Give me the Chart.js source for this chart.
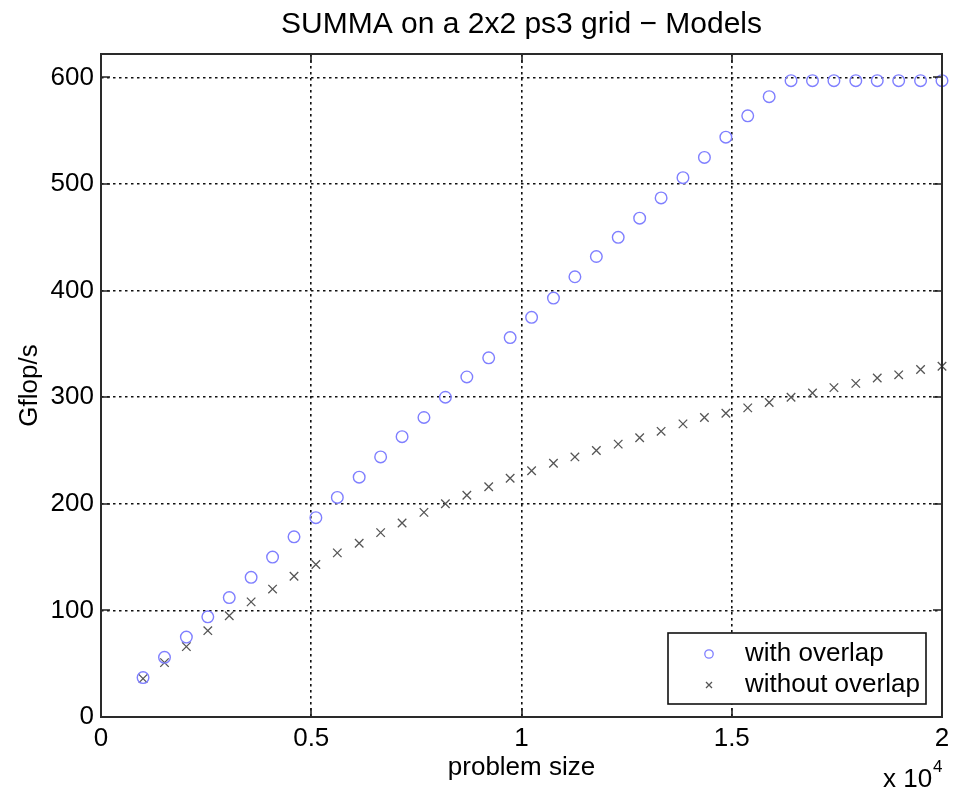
<!DOCTYPE html>
<html>
<head>
<meta charset="utf-8">
<title>SUMMA on a 2x2 ps3 grid − Models</title>
<script src="https://cdn.jsdelivr.net/npm/chart.js@4/dist/chart.umd.min.js"></script>
<style>
  html, body { margin: 0; padding: 0; background: #fff; }
  #wrap { width: 961px; height: 791px; }
</style>
</head>
<body>
<div id="wrap"><canvas id="chart" width="961" height="791"></canvas></div>
<script>
/* ===================================================
   SUMMA 2x2 ps3 grid - model curves
   =================================================== */

// problem size, in units of 10^4
const problemSize = [
    0.100, 0.151, 0.203, 0.254, 0.305, 0.357, 0.408, 0.459, 0.511, 0.562,
    0.614, 0.665, 0.716, 0.768, 0.819, 0.870, 0.922, 0.973, 1.024, 1.076,
    1.127, 1.178, 1.230, 1.281, 1.332, 1.384, 1.435, 1.486, 1.538, 1.589,
    1.641, 1.692, 1.743, 1.795, 1.846, 1.897, 1.949, 2.000
];

// Gflop/s
const withOverlap = [
    37, 56, 75, 94, 112, 131, 150, 169, 187, 206,
    225, 244, 263, 281, 300, 319, 337, 356, 375, 393,
    413, 432, 450, 468, 487, 506, 525, 544, 564, 582,
    597, 597, 597, 597, 597, 597, 597, 597
];

const withoutOverlap = [
    36, 51, 66, 81, 95, 108, 120, 132, 143, 154,
    163, 173, 182, 192, 200, 208, 216, 224, 231, 238,
    244, 250, 256, 262, 268, 275, 281, 285, 290, 295,
    300, 304, 309, 313, 318, 321, 326, 329
];

const seriesNames = ['with overlap', 'without overlap'];
const xTicks = [0, 0.5, 1, 1.5, 2];
const yTicks = [0, 100, 200, 300, 400, 500, 600];

const chartTitle = 'SUMMA on a 2x2 ps3 grid \u2212 Models';
const xLabel = 'problem size';
const yLabel = 'Gflop/s';

const FONT = '"Liberation Sans", Arial, Helvetica, sans-serif';
const CIRCLE_COLOR = '#7f7fff';
const CROSS_COLOR = '#555555';

Chart.defaults.font.family = FONT;
Chart.defaults.color = '#000';

// frame, inward ticks, title, legend and exponent like the matlab figure
const matlabFrame = {
    id: 'matlabFrame',
    afterDatasetsDraw(chart) {
        const { ctx, chartArea: a, scales: { x, y } } = chart;
        ctx.save();

        // inward ticks on all four sides
        ctx.strokeStyle = '#222';
        ctx.lineWidth = 1.6;
        ctx.beginPath();
        xTicks.forEach(v => {
            const px = Math.round(x.getPixelForValue(v));
            ctx.moveTo(px, a.bottom); ctx.lineTo(px, a.bottom - 9);
            ctx.moveTo(px, a.top); ctx.lineTo(px, a.top + 9);
        });
        yTicks.forEach(v => {
            const py = Math.round(y.getPixelForValue(v));
            ctx.moveTo(a.left, py); ctx.lineTo(a.left + 9, py);
            ctx.moveTo(a.right, py); ctx.lineTo(a.right - 9, py);
        });
        ctx.stroke();

        ctx.lineWidth = 2;
        ctx.strokeStyle = '#2a2a2a';
        ctx.strokeRect(a.left, a.top, a.right - a.left, a.bottom - a.top);

        // title
        ctx.fillStyle = '#000';
        ctx.font = '30px ' + FONT;
        ctx.textAlign = 'center';
        ctx.textBaseline = 'alphabetic';
        ctx.fillText(chartTitle, (a.left + a.right) / 2, 33);

        // x 10^4
        ctx.textAlign = 'left';
        ctx.font = '26px ' + FONT;
        ctx.fillText('x 10', 883, 787);
        ctx.font = '17px ' + FONT;
        ctx.fillText('4', 933, 772);

        // legend box
        const lx = 668, ly = 633, lw = 258, lh = 71;
        ctx.fillStyle = '#fff';
        ctx.fillRect(lx, ly, lw, lh);
        ctx.lineWidth = 1.6;
        ctx.strokeStyle = '#111';
        ctx.strokeRect(lx, ly, lw, lh);

        const rows = [ly + 21, ly + 52];
        ctx.lineWidth = 1.3;
        ctx.strokeStyle = CIRCLE_COLOR;
        ctx.beginPath();
        ctx.arc(709, rows[0], 4.2, 0, Math.PI * 2);
        ctx.stroke();

        ctx.strokeStyle = CROSS_COLOR;
        ctx.beginPath();
        ctx.moveTo(706, rows[1] - 3); ctx.lineTo(712, rows[1] + 3);
        ctx.moveTo(712, rows[1] - 3); ctx.lineTo(706, rows[1] + 3);
        ctx.stroke();

        ctx.fillStyle = '#000';
        ctx.font = '26px ' + FONT;
        ctx.textBaseline = 'middle';
        seriesNames.forEach((n, i) => ctx.fillText(n, 745, rows[i]));

        ctx.restore();
    }
};

const gridOpts = {
    color: '#111',
    lineWidth: 1.6,
    drawTicks: false,
    borderDash: [2.5, 3.5]
};

new Chart(document.getElementById('chart'), {
    type: 'scatter',
    data: {
        datasets: [
            {
                label: seriesNames[0],
                data: problemSize.map((v, i) => ({ x: v, y: withOverlap[i] })),
                pointStyle: 'circle',
                pointRadius: 5.8,
                borderColor: CIRCLE_COLOR,
                backgroundColor: 'rgba(0,0,0,0)',
                borderWidth: 1.4,
                clip: false
            },
            {
                label: seriesNames[1],
                data: problemSize.map((v, i) => ({ x: v, y: withoutOverlap[i] })),
                pointStyle: 'crossRot',
                pointRadius: 6,
                borderColor: CROSS_COLOR,
                backgroundColor: CROSS_COLOR,
                borderWidth: 1.3,
                clip: false
            }
        ]
    },
    options: {
        responsive: false,
        animation: false,
        layout: { padding: { top: 54, right: 19, left: 0, bottom: 0 } },
        plugins: {
            legend: { display: false },
            title: { display: false },
            tooltip: { enabled: false }
        },
        scales: {
            x: {
                type: 'linear',
                min: 0,
                max: 2,
                afterBuildTicks: s => { s.ticks = xTicks.map(v => ({ value: v })); },
                afterFit: s => { s.height = 74; },
                ticks: { font: { size: 26 }, color: '#000', padding: 6, callback: v => String(v) },
                grid: gridOpts,
                border: { display: false, dash: [2.5, 3.5] },
                title: { display: true, text: xLabel, font: { size: 26 }, color: '#000', padding: { top: 0, bottom: 8 } }
            },
            y: {
                type: 'linear',
                min: 0,
                max: 622,
                afterBuildTicks: s => { s.ticks = yTicks.map(v => ({ value: v })); },
                afterFit: s => { s.width = 101; },
                ticks: { font: { size: 26 }, color: '#000', padding: 7 },
                grid: gridOpts,
                border: { display: false, dash: [2.5, 3.5] },
                title: { display: true, text: yLabel, font: { size: 26 }, color: '#000', padding: { top: 14, bottom: 0 } }
            }
        }
    },
    plugins: [matlabFrame]
});
</script>
</body>
</html>
